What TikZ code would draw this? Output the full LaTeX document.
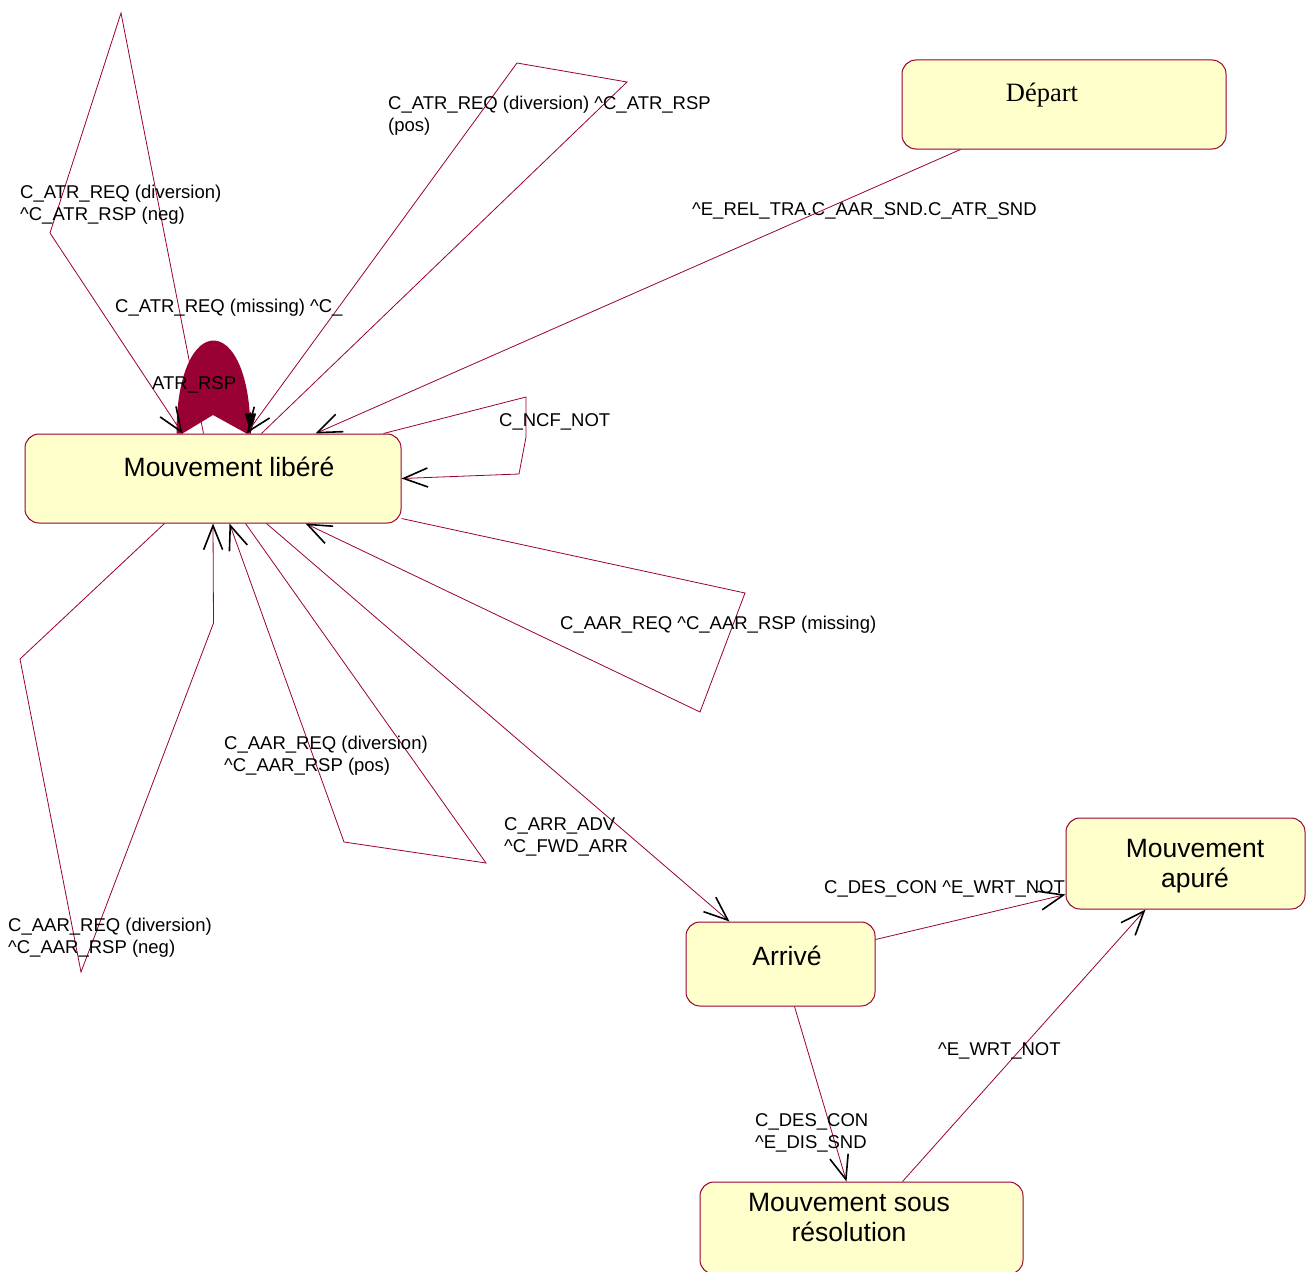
\documentclass[tikz,border=0pt]{standalone}
\usepackage{fontspec}
\setmainfont{Liberation Sans}
\newfontfamily\depfont{Liberation Serif}
\usetikzlibrary{arrows.meta,calc}
\definecolor{umlred}{RGB}{153,0,51}
\definecolor{stfill}{RGB}{255,255,204}

\begin{document}
\begin{tikzpicture}[x=1pt,y=-1pt,
   state/.style={draw=umlred,fill=stfill,line width=1pt,rounded corners=14pt,inner sep=0pt},
   sname/.style={font=\fontsize{26.5}{30}\selectfont,align=center,inner sep=0pt},
   tr/.style={draw=umlred,line width=0.8pt,
      -{Straight Barb[length=24pt,width=19pt,line width=1.6pt,color=black]}},
   lbl/.style={font=\fontsize{18.5}{22}\selectfont,align=left,anchor=west,inner sep=0pt,yshift=-3pt}]
   \useasboundingbox (0,0) rectangle (1308,1271);
   % states
   \node[state,minimum width=376pt,minimum height=89pt] (lib) at (213,478.5) {};
   \node[state,minimum width=324pt,minimum height=89pt] (dep) at (1064,104.5) {};
   \node[state,minimum width=189pt,minimum height=84pt] (arr) at (780.5,964) {};
   \node[state,minimum width=239pt,minimum height=91pt] (apu) at (1185.5,863.5) {};
   \node[state,minimum width=323pt,minimum height=92pt] (sous) at (861.5,1228) {};
   \node[sname] (libtxt) at (229,467) {Mouvement libéré};
   \node[sname,font=\depfont\fontsize{26.5}{30}\selectfont] (deptxt) at (1042,95) {Départ};
   \node[sname] (arrtxt) at (787,956) {Arrivé};
   \node[sname] (aputxt) at (1195,866) {Mouvement\\apuré};
   \node[sname] (soustxt) at (849,1217) {Mouvement sous\\résolution};
   % self loops on Mouvement libere
   \fill[umlred] ([xshift=152pt]lib.north west) .. controls +(0,-124) and +(0,-124) ..
      ([xshift=226pt]lib.north west) -- ([xshift=222pt]lib.north west)
      -- (213,415) -- ([xshift=158pt]lib.north west) -- cycle;
   \draw[umlred,-{Triangle[length=20pt,width=11pt,color=black]}]
      ([xshift=226pt,yshift=22pt]lib.north west) -- ([xshift=226pt]lib.north west);
   \draw[tr] ([xshift=179pt]lib.north west) -- (121,13) -- (50,233) -- ([xshift=158pt]lib.north west);
   \draw[tr] ([xshift=237pt]lib.north west) -- (627,82) -- (517,63) -- ([xshift=222pt]lib.north west);
   \draw[tr] ([xshift=-18pt]lib.north east) -- (526,397) -- (526,437) -- (519,474) -- (lib.east);
   \draw[tr] ([yshift=5pt]lib.south east) -- (745,593) -- (700,712) -- ([xshift=281pt]lib.south west);
   \draw[tr] ([xshift=221pt]lib.south west) -- (486,863) -- (344,842) -- ([xshift=205pt]lib.south west);
   \draw[tr] ([xshift=140pt]lib.south west) -- (20,659) -- (81,972) -- (213.5,623) -- ([xshift=188.5pt]lib.south west);
   % transitions
   \draw[tr] ([xshift=59pt]dep.south west) -- ([xshift=291pt]lib.north west);
   \draw[tr] ([xshift=242pt]lib.south west) -- ([xshift=44pt]arr.north west);
   \draw[tr] ([yshift=-18pt]arr.north east) -- ([yshift=15pt]apu.south west);
   \draw[tr] ([xshift=109pt]arr.south west) -- ([xshift=147pt]sous.north west);
   \draw[tr] ([xshift=203pt]sous.north west) -- ([xshift=80pt]apu.south west);
   % labels
   \node[lbl] (l1) at (20,202) {C\_ATR\_REQ (diversion)\\\textasciicircum C\_ATR\_RSP (neg)};
   \node[lbl] (l2) at (388,113) {C\_ATR\_REQ (diversion) \textasciicircum C\_ATR\_RSP\\(pos)};
   \node[lbl] (l3) at (115,305) {C\_ATR\_REQ (missing) \textasciicircum C\_};
   \node[lbl] (l3b) at (152,382) {ATR\_RSP};
   \node[lbl] (l4) at (692,208) {\textasciicircum E\_REL\_TRA.C\_AAR\_SND.C\_ATR\_SND};
   \node[lbl] (l5) at (499,419) {C\_NCF\_NOT};
   \node[lbl] (l6) at (560,622) {C\_AAR\_REQ \textasciicircum C\_AAR\_RSP (missing)};
   \node[lbl] (l7) at (224,753) {C\_AAR\_REQ (diversion)\\\textasciicircum C\_AAR\_RSP (pos)};
   \node[lbl] (l8) at (504,834) {C\_ARR\_ADV\\\textasciicircum C\_FWD\_ARR};
   \node[lbl] (l9) at (8,935) {C\_AAR\_REQ (diversion)\\\textasciicircum C\_AAR\_RSP (neg)};
   \node[lbl] (l10) at (824,886) {C\_DES\_CON \textasciicircum E\_WRT\_NOT};
   \node[lbl] (l11) at (938,1048) {\textasciicircum E\_WRT\_NOT};
   \node[lbl] (l12) at (755,1130) {C\_DES\_CON\\\textasciicircum E\_DIS\_SND};
\end{tikzpicture}
\end{document}
